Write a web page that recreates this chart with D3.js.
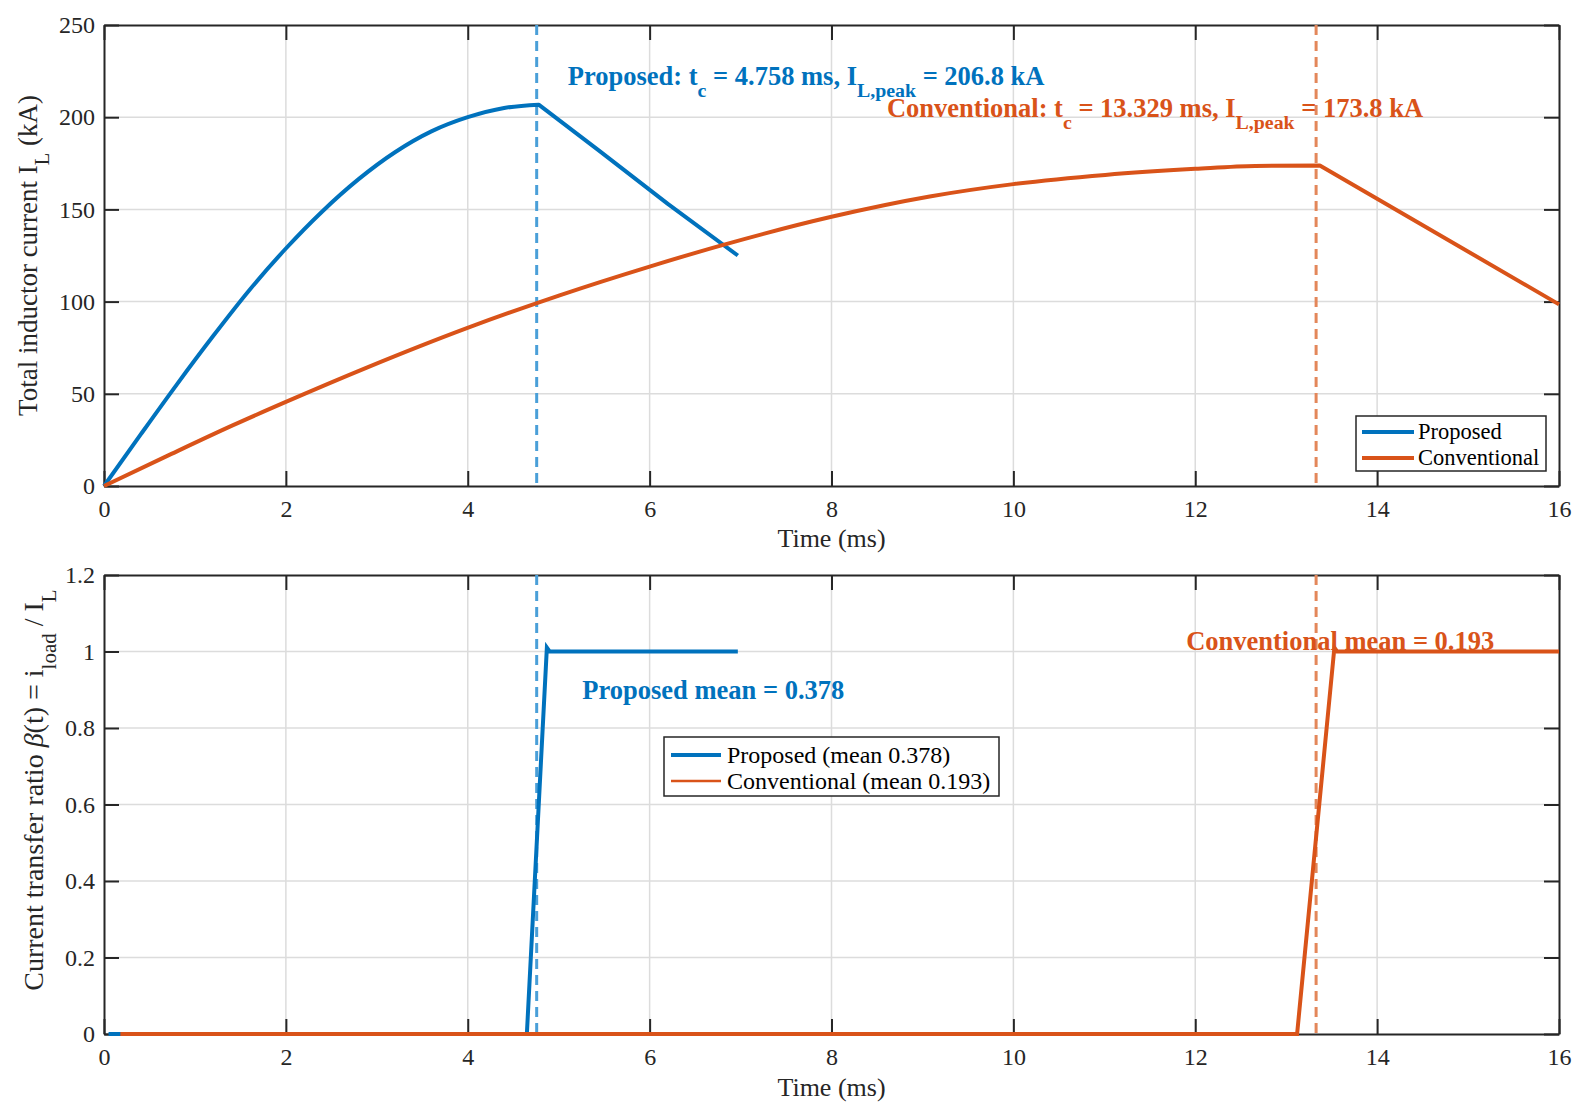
<!DOCTYPE html>
<html>
<head>
<meta charset="utf-8">
<script src="https://cdn.jsdelivr.net/npm/d3@7"></script>
<style>
  body { margin: 0; background: #fff; }
  svg { display: block; font-family: "Liberation Serif", "Times New Roman", serif; }
</style>
</head>
<body>
<div id="chart"></div>
<script>
// Data
const xTicks = [0, 2, 4, 6, 8, 10, 12, 14, 16];
const yTicksTop = [0, 50, 100, 150, 200, 250];
const yTicksBottom = [0, 0.2, 0.4, 0.6, 0.8, 1, 1.2];

// top panel: total inductor current (kA) vs time (ms)
const propTime = [0, 0.4, 0.8, 1.2, 1.6, 2.0, 2.4, 2.8, 3.2, 3.6, 4.0, 4.4, 4.78, 5.44, 6.2, 6.97];
const propCurrent = [0, 27.7, 55, 81.3, 106.3, 128.8, 148.9, 166.4, 181, 192.3, 200, 205, 206.8, 182, 153, 125];
const convTime = [0, 0.69, 1.42, 2.0, 2.89, 3.99, 4.76, 5.01, 6.0, 6.79, 8.0, 9.08, 10.0, 11.01, 12.0, 12.66, 13.37, 16.0];
const convCurrent = [0, 16.2, 33.0, 45.6, 64.2, 85.6, 99.2, 103.4, 119, 130.5, 146, 157, 163.7, 168.7, 172, 173.6, 173.8, 98.5];

// bottom panel: current transfer ratio
const propBetaTime = [0.05, 4.65, 4.87, 4.9, 6.97];
const propBeta = [0, 0, 1.01, 1.0, 1.0];
const convBetaTime = [0.18, 13.12, 13.53, 13.56, 16.0];
const convBeta = [0, 0, 1.01, 1.0, 1.0];

const tcProposed = 4.758;
const tcConventional = 13.329;

const blue = "#0072BD", orange = "#D95319";
const blueDash = "#4a9fd8", orangeDash = "#e3875a";

const width = 1592, height = 1118;
const left = 104, right = 1559;

const svg = d3.select("#chart").append("svg")
    .attr("width", width)
    .attr("height", height);

svg.append("rect").attr("width", width).attr("height", height).attr("fill", "#fff");

const x = d3.scaleLinear().domain([0, 16]).range([left, right]);

// writes a text made of parts, some of them subscripts
function richText(g, parts, size) {
  parts.forEach(p => {
    const ts = g.append("tspan").text(p.t);
    if (p.sub) {
      ts.attr("font-size", size * 0.75).attr("dy", size * 0.45);
    } else if (p.after) {
      ts.attr("dy", -size * 0.45);
    }
    if (p.italic) ts.attr("font-style", "italic");
  });
}

function panel(top, bottom, yMax, yTicks, fmt) {
  const y = d3.scaleLinear().domain([0, yMax]).range([bottom, top]);
  const g = svg.append("g");

  // grid
  g.append("g").selectAll("line").data(xTicks.slice(1, -1)).enter().append("line")
      .attr("x1", d => x(d)).attr("x2", d => x(d))
      .attr("y1", top).attr("y2", bottom)
      .attr("stroke", "#dcdcdc").attr("stroke-width", 1.5);
  g.append("g").selectAll("line").data(yTicks.slice(1, -1)).enter().append("line")
      .attr("x1", left).attr("x2", right)
      .attr("y1", d => y(d)).attr("y2", d => y(d))
      .attr("stroke", "#dcdcdc").attr("stroke-width", 1.5);

  const axes = [
    g.append("g").attr("transform", `translate(0,${bottom})`)
      .call(d3.axisBottom(x).tickValues(xTicks).tickSize(-15).tickSizeOuter(0).tickPadding(14)),
    g.append("g").attr("transform", `translate(0,${top})`)
      .call(d3.axisTop(x).tickValues(xTicks).tickSize(-15).tickSizeOuter(0).tickFormat("")),
    g.append("g").attr("transform", `translate(${left},0)`)
      .call(d3.axisLeft(y).tickValues(yTicks).tickSize(-15).tickSizeOuter(0).tickPadding(9).tickFormat(fmt)),
    g.append("g").attr("transform", `translate(${right},0)`)
      .call(d3.axisRight(y).tickValues(yTicks).tickSize(-15).tickSizeOuter(0).tickFormat(""))
  ];
  axes.forEach(a => {
    a.attr("font-family", null).attr("font-size", 24);
    a.selectAll("path").attr("stroke", "#262626").attr("stroke-width", 2);
    a.selectAll("line").attr("stroke", "#262626").attr("stroke-width", 2);
    a.selectAll("text").attr("fill", "#262626");
  });
  return { g, y };
}

const line = (xs, ys, y) => d3.line().x((d, i) => x(xs[i])).y((d, i) => y(ys[i]))(xs);

// smooth rise up to the peak, straight fall after it
function riseFall(g, xs, ys, y, color) {
  const k = ys.indexOf(d3.max(ys));
  const pts = xs.map((t, i) => [x(t), y(ys[i])]);
  const rise = d3.line().curve(d3.curveMonotoneX)(pts.slice(0, k + 1));
  const fall = d3.line()(pts.slice(k));
  g.append("path").attr("d", rise + fall.replace(/^M/, "L"))
      .attr("fill", "none").attr("stroke", color).attr("stroke-width", 4)
      .attr("stroke-linejoin", "round");
}

// ---------- top panel ----------
const p1 = panel(25, 486, 250, yTicksTop, d => d);
const y1 = p1.y;

[[tcProposed, blueDash], [tcConventional, orangeDash]].forEach(([t, c]) => {
  p1.g.append("line").attr("x1", x(t)).attr("x2", x(t)).attr("y1", y1(250)).attr("y2", y1(0))
      .attr("stroke", c).attr("stroke-width", 3).attr("stroke-dasharray", "10,6");
});

riseFall(p1.g, propTime, propCurrent, y1, blue);
riseFall(p1.g, convTime, convCurrent, y1, orange);

let t1 = p1.g.append("text").attr("x", x(5.1)).attr("y", y1(217.5))
    .attr("font-size", 26.5).attr("font-weight", "bold").attr("fill", blue);
richText(t1, [{t: "Proposed: t"}, {t: "c", sub: true}, {t: " = 4.758 ms, I", after: true},
              {t: "L,peak", sub: true}, {t: " = 206.8 kA", after: true}], 26.5);

let t2 = p1.g.append("text").attr("x", x(8.61)).attr("y", y1(200.3))
    .attr("font-size", 26.5).attr("font-weight", "bold").attr("fill", orange);
richText(t2, [{t: "Conventional: t"}, {t: "c", sub: true}, {t: " = 13.329 ms, I", after: true},
              {t: "L,peak", sub: true}, {t: " = 173.8 kA", after: true}], 26.5);

// legend top
const lg1 = p1.g.append("g");
lg1.append("rect").attr("x", 1356).attr("y", 416).attr("width", 190).attr("height", 55)
    .attr("fill", "#fff").attr("stroke", "#262626").attr("stroke-width", 1.5);
[["Proposed", blue], ["Conventional", orange]].forEach(([name, c], i) => {
  const yy = 432 + i * 26;
  lg1.append("line").attr("x1", 1362).attr("x2", 1414).attr("y1", yy).attr("y2", yy)
      .attr("stroke", c).attr("stroke-width", 4);
  lg1.append("text").attr("x", 1418).attr("y", yy).attr("dy", "0.33em")
      .attr("font-size", 22.5).attr("fill", "#000").text(name);
});

// axis labels top
svg.append("text").attr("x", x(8)).attr("y", 547).attr("text-anchor", "middle")
    .attr("font-size", 26).attr("fill", "#262626").text("Time (ms)");
let yl1 = svg.append("text").attr("transform", `translate(37,${(25 + 486) / 2}) rotate(-90)`)
    .attr("text-anchor", "middle").attr("font-size", 27).attr("fill", "#262626");
richText(yl1, [{t: "Total inductor current I"}, {t: "L", sub: true}, {t: " (kA)", after: true}], 27);

// ---------- bottom panel ----------
const p2 = panel(575, 1034, 1.2, yTicksBottom, d => String(+d.toFixed(1)));
const y2 = p2.y;

[[tcProposed, blueDash], [tcConventional, orangeDash]].forEach(([t, c]) => {
  p2.g.append("line").attr("x1", x(t)).attr("x2", x(t)).attr("y1", y2(1.2)).attr("y2", y2(0))
      .attr("stroke", c).attr("stroke-width", 3).attr("stroke-dasharray", "10,6");
});

p2.g.append("path").attr("d", line(propBetaTime, propBeta, y2))
    .attr("fill", "none").attr("stroke", blue).attr("stroke-width", 4);
p2.g.append("path").attr("d", line(convBetaTime, convBeta, y2))
    .attr("fill", "none").attr("stroke", orange).attr("stroke-width", 4);

p2.g.append("text").attr("x", x(5.26)).attr("y", y2(0.876))
    .attr("font-size", 26.5).attr("font-weight", "bold").attr("fill", blue)
    .text("Proposed mean = 0.378");
p2.g.append("text").attr("x", x(11.9)).attr("y", y2(1.004))
    .attr("font-size", 26.5).attr("font-weight", "bold").attr("fill", orange)
    .text("Conventional mean = 0.193");

// legend bottom
const lg2 = p2.g.append("g");
lg2.append("rect").attr("x", 664).attr("y", 737).attr("width", 335).attr("height", 59)
    .attr("fill", "#fff").attr("stroke", "#262626").attr("stroke-width", 1.5);
[["Proposed (mean 0.378)", blue, 4], ["Conventional (mean 0.193)", orange, 2.5]].forEach(([name, c, w], i) => {
  const yy = 755 + i * 26;
  lg2.append("line").attr("x1", 671).attr("x2", 721).attr("y1", yy).attr("y2", yy)
      .attr("stroke", c).attr("stroke-width", w);
  lg2.append("text").attr("x", 727).attr("y", yy).attr("dy", "0.33em")
      .attr("font-size", 24).attr("fill", "#000").text(name);
});

svg.append("text").attr("x", x(8)).attr("y", 1096).attr("text-anchor", "middle")
    .attr("font-size", 26).attr("fill", "#262626").text("Time (ms)");
let yl2 = svg.append("text").attr("transform", `translate(43,790) rotate(-90)`)
    .attr("text-anchor", "middle").attr("font-size", 28).attr("fill", "#262626");
richText(yl2, [{t: "Current transfer ratio "}, {t: "β", italic: true}, {t: "(t) = i"},
               {t: "load", sub: true}, {t: " / I", after: true}, {t: "L", sub: true}, {t: "", after: true}], 28);
</script>
</body>
</html>
